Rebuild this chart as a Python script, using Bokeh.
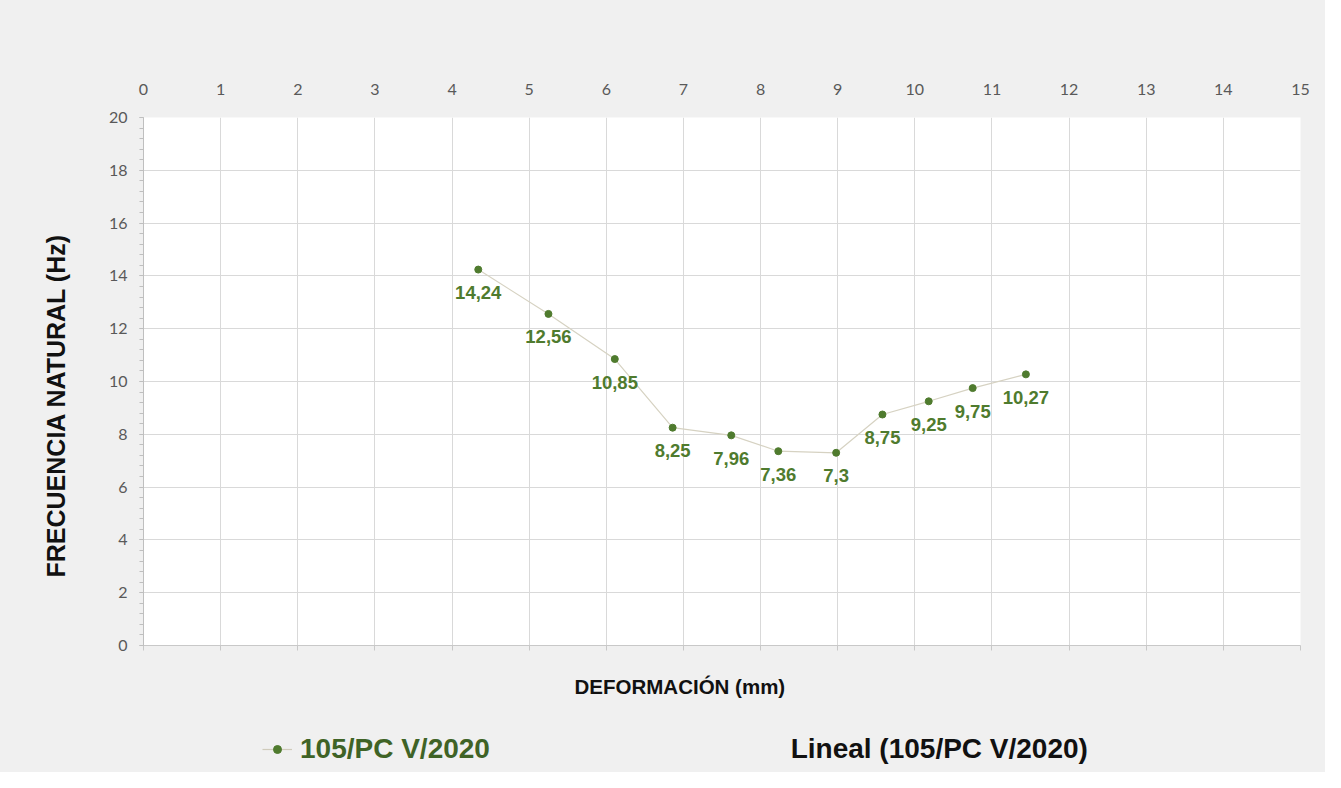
from bokeh.plotting import figure
from bokeh.models import (LinearAxis, Legend, LegendItem, ColumnDataSource,
                          SingleIntervalTicker, Range1d, Title)
from bokeh.layouts import column
from bokeh.core.properties import value
from bokeh.embed import file_html
from bokeh.resources import INLINE

# ---- data ----
deformacion = [4.34, 5.25, 6.11, 6.86, 7.62, 8.23, 8.98, 9.58, 10.18, 10.75, 11.44]
frecuencia = [14.24, 12.56, 10.85, 8.25, 7.96, 7.36, 7.30, 8.75, 9.25, 9.75, 10.27]
etiquetas = ["14,24", "12,56", "10,85", "8,25", "7,96", "7,36", "7,3", "8,75", "9,25", "9,75", "10,27"]
serie = "105/PC V/2020"
tendencia = "Lineal (105/PC V/2020)"
x_titulo = "DEFORMACIÓN (mm)"
y_titulo = "FRECUENCIA NATURAL (Hz)"

GREEN = "#4f7b2e"
GREY_TXT = "#595959"
GRID = "#d9d9d9"
FONT = "Liberation Sans"
CARD = "#f0f0f0"

src = ColumnDataSource(dict(x=deformacion, y=frecuencia, t=etiquetas))

p = figure(width=1325, height=720, output_backend="svg", toolbar_location=None,
           x_axis_location="above", x_range=Range1d(0, 15), y_range=Range1d(0, 20),
           min_border_left=143, min_border_right=25, min_border_top=117, min_border_bottom=75)
p.border_fill_color = CARD
p.background_fill_color = "#ffffff"
p.outline_line_color = None

# grids
p.xgrid.ticker = SingleIntervalTicker(interval=1)
p.ygrid.ticker = SingleIntervalTicker(interval=2)
p.grid.grid_line_color = GRID
p.grid.grid_line_width = 1

# top axis
xa = p.xaxis[0]
xa.ticker = SingleIntervalTicker(interval=1)
xa.axis_line_color = None
xa.major_tick_line_color = None
xa.minor_tick_line_color = None
xa.major_label_standoff = 17
xa.major_label_text_font = "Lato"
xa.major_label_text_font_size = "16px"
xa.major_label_text_color = GREY_TXT

# left axis
ya = p.yaxis[0]
ya.ticker = SingleIntervalTicker(interval=2, num_minor_ticks=5)
ya.axis_line_color = "#bfbfbf"
ya.major_tick_line_color = "#bfbfbf"
ya.minor_tick_line_color = "#bfbfbf"
ya.major_tick_out = 4
ya.major_tick_in = 0
ya.minor_tick_out = 4
ya.minor_tick_in = 0
ya.major_label_standoff = 12
ya.major_label_text_font = "Lato"
ya.major_label_text_font_size = "16px"
ya.major_label_text_color = GREY_TXT

# bottom axis (tick marks only)
ba = LinearAxis(ticker=SingleIntervalTicker(interval=1))
ba.axis_line_color = "#c8c8c8"
ba.major_tick_line_color = "#c8c8c8"
ba.major_tick_out = 5
ba.major_tick_in = 0
ba.minor_tick_line_color = None
ba.major_label_text_alpha = 0
ba.major_label_text_font_size = "1px"
ba.major_label_standoff = 0
p.add_layout(ba, "below")

# series
p.line("x", "y", source=src, line_color="#d6d2c2", line_width=1.2)
p.scatter("x", "y", source=src, size=7, fill_color=GREEN, line_color=GREEN)
p.text("x", "y", text="t", source=src, y_offset=23, text_align="center",
       text_baseline="middle", text_color=GREEN, text_font=value(FONT),
       text_font_style="bold", text_font_size="18.5px")

# axis titles
p.add_layout(Title(text=y_titulo, align="left", offset=68, standoff=72,
                   text_font=FONT, text_font_style="bold", text_font_size="25px",
                   text_color="#111111"), "left")
p.add_layout(Title(text=x_titulo, align="left", offset=431, standoff=44,
                   text_font=FONT, text_font_style="bold", text_font_size="20.5px",
                   text_color="#111111"), "below")

# ---- legend strip (shares the x scale of the chart) ----
lg = figure(width=1325, height=52, output_backend="svg", toolbar_location=None,
            x_range=p.x_range, y_range=Range1d(0, 1), x_axis_type=None, y_axis_type=None,
            min_border_left=143, min_border_right=25, min_border_top=0, min_border_bottom=0)
lg.border_fill_color = CARD
lg.background_fill_color = None
lg.outline_line_color = None
lg.grid.visible = False
# series renderers for the legend key (data lie outside this strip's y range)
k_ln = lg.line("x", "y", source=src, line_color="#cfcbbb", line_width=1.2)
k_sc = lg.scatter("x", "y", source=src, size=7, fill_color=GREEN, line_color=GREEN)
leg = Legend(items=[LegendItem(label=serie, renderers=[k_ln, k_sc])], location=(119, 7),
             orientation="horizontal", border_line_color=None, background_fill_alpha=0,
             label_text_font=FONT, label_text_font_style="bold",
             label_text_font_size="28px", label_text_color="#3f6326",
             glyph_width=30, label_standoff=8, padding=0, margin=0)
lg.add_layout(leg, "center")
lg.text(x=[8.39], y=[0.46], text=[tendencia], text_align="left", text_baseline="middle",
        text_font=value(FONT), text_font_style="bold", text_font_size="28px",
        text_color="#111111")

layout = column(p, lg, spacing=0)
layout.background = CARD
open("out.html", "w").write(file_html(layout, INLINE))
